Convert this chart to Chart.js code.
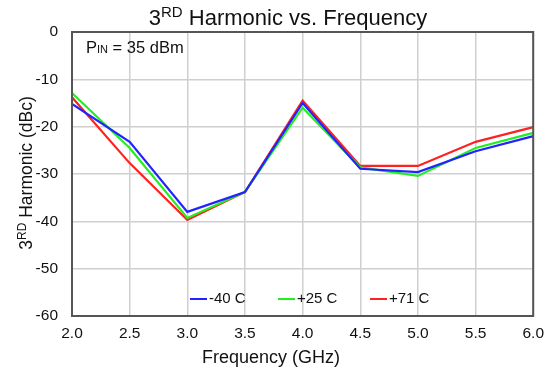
<!DOCTYPE html>
<html>
<head>
<meta charset="utf-8">
<script src="https://cdn.jsdelivr.net/npm/chart.js@4"></script>
<style>
  html, body { margin: 0; padding: 0; background: #fff; }
  #wrap { width: 552px; height: 372px; }
</style>
</head>
<body>
<div id="wrap"><canvas id="chart" width="552" height="372"></canvas></div>
<script>
// Data
const freqs = [2.0, 2.5, 3.0, 3.5, 4.0, 4.5, 5.0, 5.5, 6.0];
const minus40 = [-15.2, -23.2, -38.0, -33.8, -15.0, -28.9, -29.6, -25.2, -22.0];
const plus25 = [-12.9, -24.5, -39.3, -33.8, -16.0, -28.6, -30.4, -24.5, -21.3];
const plus71 = [-13.8, -27.7, -39.7, -33.8, -14.5, -28.3, -28.3, -23.2, -20.1];
const seriesLabels = ['-40 C', '+25 C', '+71 C'];
const seriesColors = ['#2323ff', '#22ee22', '#ff2020'];
const yTicks = { min: -60, max: 0, step: 10 };
const xTicks = { min: 2.0, max: 6.0, step: 0.5 };

const FONT = 'Liberation Sans, Arial, Helvetica, sans-serif';
Chart.defaults.font.family = FONT;

function pts(vals) {
    return vals.map((v, i) => ({ x: freqs[i], y: v }));
}

// text with a smaller raised/lowered part: parts = [[text, size, dy], ...]
function drawParts(ctx, parts, x, y, align) {
    let total = 0;
    parts.forEach(p => {
        ctx.font = p[1] + 'px ' + FONT;
        total += ctx.measureText(p[0]).width;
    });
    let cx = align === 'center' ? x - total / 2 : x;
    ctx.textAlign = 'left';
    ctx.textBaseline = 'alphabetic';
    parts.forEach(p => {
        ctx.font = p[1] + 'px ' + FONT;
        ctx.fillText(p[0], cx, y + p[2]);
        cx += ctx.measureText(p[0]).width;
    });
}

const decorations = {
    id: 'decorations',
    afterDatasetsDraw(chart) {
        const ctx = chart.ctx;
        const a = chart.chartArea;
        ctx.save();
        // frame
        ctx.strokeStyle = '#555';
        ctx.lineWidth = 2;
        ctx.strokeRect(a.left, a.top, a.right - a.left, a.bottom - a.top);

        ctx.fillStyle = '#111';
        // title
        drawParts(ctx, [['3', 22, 0], ['RD', 15, -8], [' Harmonic vs. Frequency', 22, 0]], 288, 25, 'center');
        // PIN note
        drawParts(ctx, [['P', 16.5, 0], ['IN', 11, 0], [' = 35 dBm', 16.5, 0]], 86, 53, 'left');
        // x axis title
        ctx.font = '18px ' + FONT;
        ctx.textAlign = 'center';
        ctx.fillText('Frequency (GHz)', 271, 363);
        // y axis title (rotated)
        ctx.translate(32, 173);
        ctx.rotate(-Math.PI / 2);
        drawParts(ctx, [['3', 17.5, 0], ['RD', 12, -6], [' Harmonic (dBc)', 17.5, 0]], 0, 0, 'center');
        ctx.restore();

        // legend inside the plot
        ctx.save();
        const ly = 299;
        const starts = [190, 278, 370];
        ctx.font = '15px ' + FONT;
        ctx.textBaseline = 'middle';
        ctx.textAlign = 'left';
        chart.data.datasets.forEach((ds, i) => {
            ctx.strokeStyle = ds.borderColor;
            ctx.lineWidth = 2;
            ctx.beginPath();
            ctx.moveTo(starts[i], ly);
            ctx.lineTo(starts[i] + 17, ly);
            ctx.stroke();
            ctx.fillStyle = '#111';
            ctx.fillText(ds.label, starts[i] + 19, ly);
        });
        ctx.restore();
    }
};

const ctx = document.getElementById('chart').getContext('2d');
new Chart(ctx, {
    type: 'line',
    data: {
        datasets: [minus40, plus25, plus71].map((vals, i) => ({
            label: seriesLabels[i],
            data: pts(vals),
            borderColor: seriesColors[i],
            backgroundColor: seriesColors[i],
            borderWidth: 2.2,
            pointRadius: 0,
            tension: 0,
            fill: false
        }))
    },
    options: {
        responsive: false,
        animation: false,
        layout: { padding: { left: 0, top: 32, right: 14, bottom: 0 } },
        plugins: {
            legend: { display: false },
            title: { display: false },
            tooltip: { enabled: false }
        },
        scales: {
            x: {
                type: 'linear',
                min: xTicks.min,
                max: xTicks.max,
                afterFit: s => { s.height = 56; },
                border: { display: false },
                grid: { color: '#cfcfcf', lineWidth: 1.5, drawTicks: false },
                ticks: {
                    stepSize: xTicks.step,
                    padding: 8,
                    color: '#111',
                    font: { size: 15.5 },
                    callback: v => v.toFixed(1)
                }
            },
            y: {
                min: yTicks.min,
                max: yTicks.max,
                afterFit: s => { s.width = 72; },
                border: { display: false },
                grid: { color: '#cfcfcf', lineWidth: 1.5, drawTicks: false },
                ticks: {
                    stepSize: yTicks.step,
                    padding: 14,
                    color: '#111',
                    font: { size: 15.5 }
                }
            }
        }
    },
    plugins: [decorations]
});
</script>
</body>
</html>
